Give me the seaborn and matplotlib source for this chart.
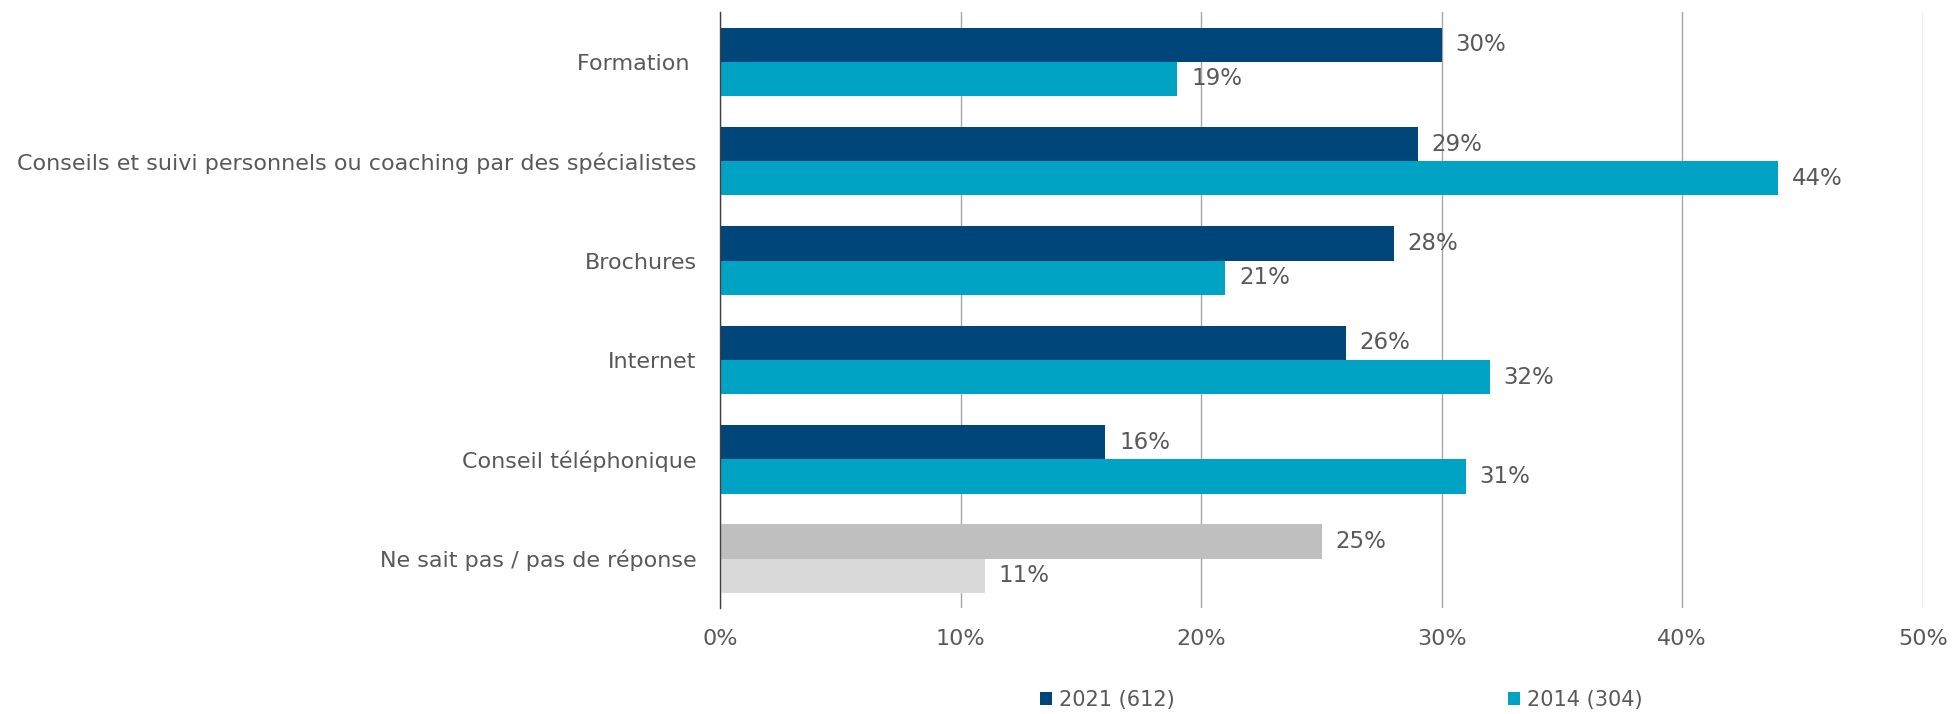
import pandas as pd
import seaborn as sns
import matplotlib.pyplot as plt
from matplotlib.ticker import FuncFormatter

categories = ["Formation ", "Conseils et suivi personnels ou coaching par des spécialistes",
              "Brochures", "Internet", "Conseil téléphonique", "Ne sait pas / pas de réponse"]
values_2021 = [30, 29, 28, 26, 16, 25]
values_2014 = [19, 44, 21, 32, 31, 11]
series = ["2021 (612)", "2014 (304)"]

blue_dark = "#00467A"
blue_light = "#00A3C4"
grey_dark = "#BFBFBF"
grey_light = "#D9D9D9"
text_col = "#595959"

df = pd.DataFrame({
    "cat": categories * 2,
    "val": values_2021 + values_2014,
    "year": [series[0]] * len(categories) + [series[1]] * len(categories),
})

sns.set_style("white")
plt.rcParams['font.family'] = ['DejaVu Sans']

fig = plt.figure(figsize=(19.52, 7.14), dpi=100)
ax = fig.add_axes([0.369, 0.148, 0.616, 0.835])

sns.barplot(data=df, y="cat", x="val", hue="year", orient="h",
            palette=[blue_dark, blue_light], width=0.69, saturation=1,
            ax=ax, legend=True)

# grey for the "don't know" group
for cont, col in zip(ax.containers, [grey_dark, grey_light]):
    cont.patches[-1].set_facecolor(col)
    cont.patches[-1].set_edgecolor(col)
    ax.bar_label(cont, labels=[f"{v:.0f}%" for v in cont.datavalues],
                 padding=10, fontsize=16.5, color=text_col)

for p in ax.patches:
    p.set_linewidth(0)

ax.set_xlim(0, 50)
ax.set_ylim(5.5, -0.5)
ax.set_xticks([0, 10, 20, 30, 40, 50])
ax.xaxis.set_major_formatter(FuncFormatter(lambda x, _: f"{x:.0f}%"))
ax.set_xlabel("")
ax.set_ylabel("")
ax.grid(axis="x", color="#A6A6A6", linewidth=1)
ax.set_axisbelow(True)
for s in ["top", "right", "bottom"]:
    ax.spines[s].set_visible(False)
ax.spines["left"].set_color("#404040")
ax.spines["left"].set_linewidth(1)
ax.tick_params(axis="y", length=0, pad=17, labelsize=16, labelcolor=text_col)
ax.tick_params(axis="x", length=0, pad=15, labelsize=16, labelcolor=text_col)

handles, labels = ax.get_legend_handles_labels()
ax.get_legend().remove()
fig.legend(handles, labels, loc="center", bbox_to_anchor=(0.687, 0.02), ncol=2,
           frameon=False, fontsize=15, labelcolor=text_col,
           handlelength=0.6, handleheight=0.6, handletextpad=0.3, columnspacing=16)

fig.savefig("out.png", dpi=100)
